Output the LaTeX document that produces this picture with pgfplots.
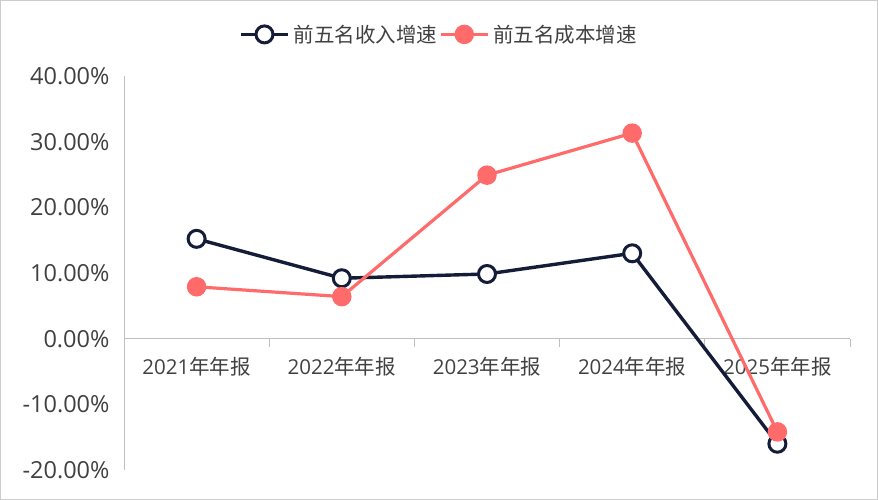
\documentclass[border=0pt]{standalone}
\usepackage{pgfplots}
\pgfplotsset{compat=1.18}
\usepackage{fontspec}
\setmainfont{Open Sans}
\newfontfamily\cjk{Noto Sans CJK SC}
\definecolor{navy}{HTML}{141C38}
\definecolor{coral}{HTML}{FF6B6B}
\definecolor{txt}{HTML}{404040}
\definecolor{axgray}{HTML}{BFBFBF}
\begin{document}
\begin{tikzpicture}
\useasboundingbox (0,0) rectangle (878pt,500pt);
\draw[draw=axgray!80, line width=1pt] (0.5pt,0.5pt) rectangle (877.5pt,499.5pt);
\begin{axis}[
  scale only axis,
  width=726pt, height=394pt,
  at={(124pt,30pt)}, anchor=south west,
  xmin=-0.5, xmax=4.5, ymin=-20, ymax=40,
  axis y line=left, axis x line=middle,
  axis line style={draw=axgray, line width=1pt, -},
  xtick={0,1,2,3,4},
  xticklabels={{2021\cjk 年年报},{2022\cjk 年年报},{2023\cjk 年年报},{2024\cjk 年年报},{2025\cjk 年年报}},
  minor xtick={-0.5,0.5,1.5,2.5,3.5,4.5},
  major tick length=0pt,
  minor tick length=8pt,
  x tick style={draw=axgray, line width=1pt},
  tick align=outside,
  xticklabel style={font=\fontsize{20.5}{24}\selectfont, text=txt, yshift=-15pt},
  ytick={-20,-10,0,10,20,30,40},
  y tick style={draw=none},
  yticklabel={\pgfmathprintnumber[fixed,fixed zerofill,precision=2]{\tick}\%},
  /pgf/number format/assume math mode=true,
  yticklabel style={font=\fontsize{23.5}{26}\selectfont, text=txt, xshift=-11pt},
  legend columns=2,
  legend style={draw=none, fill=none, at={(0.434,1)}, anchor=south, yshift=28pt,
    font=\cjk\fontsize{20.5}{24}\selectfont, text=txt,
    /tikz/every odd column/.append style={column sep=2pt}},
  legend image code/.code={\draw[mark repeat=2,mark phase=2] plot coordinates {(0pt,0pt)(23.5pt,0pt)(47pt,0pt)};},
  clip=false,
]
\addplot[navy, line width=3.4pt, mark=*, mark size=8.5pt, mark options={fill=white, line width=3pt}]
  coordinates {(0,15.2)(1,9.2)(2,9.85)(3,13.0)(4,-16.0)};
\addlegendentry{前五名收入增速}
\addplot[coral, line width=3.2pt, mark=*, mark size=9pt, mark options={fill=coral, line width=1.5pt}]
  coordinates {(0,7.9)(1,6.4)(2,24.9)(3,31.3)(4,-14.2)};
\addlegendentry{前五名成本增速}
\end{axis}
\end{tikzpicture}
\end{document}
